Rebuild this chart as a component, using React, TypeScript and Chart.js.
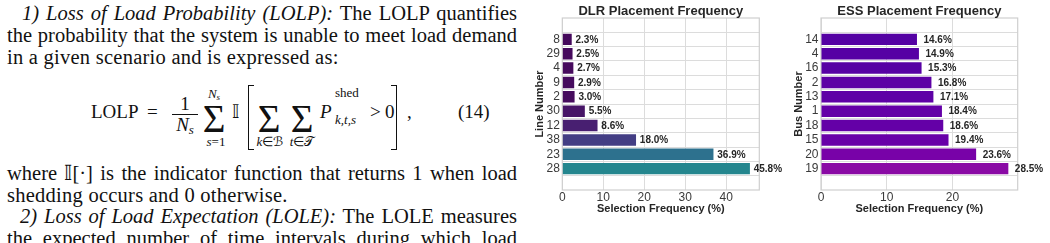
import React, { useEffect, useRef } from 'react';
import { Chart, registerables } from 'chart.js';
Chart.register(...registerables);

// ---- data ----
const dlrLines = ['8', '29', '4', '9', '2', '30', '12', '38', '23', '28'];
const dlrFreq = [2.3, 2.5, 2.7, 2.9, 3.0, 5.5, 8.6, 18.0, 36.9, 45.8];
const dlrXTicks = [0, 10, 20, 30, 40];
const essBuses = ['14', '4', '16', '2', '13', '1', '18', '15', '20', '19'];
const essFreq = [14.6, 14.9, 15.3, 16.8, 17.1, 18.4, 18.6, 19.4, 23.6, 28.5];
const essXTicks = [0, 10, 20];

// ---- colormaps (style) ----
const VIRIDIS = ['#440154', '#471365', '#482475', '#463480', '#414487', '#3b528b', '#355f8d', '#2f6c8e', '#2a788e', '#25848e', '#21918c', '#1e9c89', '#22a884', '#2fb47c', '#44bf70', '#5ec962', '#7ad151', '#9bd93c', '#bddf26', '#dfe318', '#fde725'];
const PLASMA = ['#0d0887', '#2a0593', '#41049d', '#5601a4', '#6a00a8', '#7e03a8', '#8f0da4', '#a11b9b', '#b12a90', '#bf3984', '#cc4778', '#d6556d', '#e16462', '#ea7457', '#f2844b', '#f89540', '#fca636', '#fdb82c', '#fcce25', '#f7e225', '#f0f921'];

function hex(c: string) {
  return [parseInt(c.slice(1, 3), 16), parseInt(c.slice(3, 5), 16), parseInt(c.slice(5, 7), 16)];
}
function cmap(stops: string[], t: number) {
  const tt = Math.max(0, Math.min(1, t)) * (stops.length - 1);
  const i = Math.min(stops.length - 2, Math.floor(tt));
  const f = tt - i;
  const a = hex(stops[i]);
  const b = hex(stops[i + 1]);
  const m = a.map((v, k) => Math.round(v + (b[k] - v) * f));
  return `rgb(${m[0]},${m[1]},${m[2]})`;
}

const SANS = '"Liberation Sans", Arial, Helvetica, sans-serif';
const SERIF = '"Liberation Serif", "Times New Roman", serif';

const framePlugin = {
  id: 'frame',
  beforeDatasetsDraw(chart: any) {
    const { ctx, chartArea: a } = chart;
    ctx.save();
    ctx.strokeStyle = '#cfcfcf';
    ctx.lineWidth = 1.2;
    ctx.strokeRect(a.left, a.top, a.right - a.left, a.bottom - a.top);
    ctx.restore();
  },
};

// title centred over the plot area (matplotlib style)
const plotTitlePlugin = {
  id: 'plotTitle',
  afterDraw(chart: any, _args: any, opts: any) {
    const { ctx, chartArea: a } = chart;
    ctx.save();
    ctx.font = `bold 13px ${SANS}`;
    ctx.fillStyle = '#262626';
    ctx.textAlign = 'center';
    ctx.textBaseline = 'middle';
    ctx.fillText(opts.text, (a.left + a.right) / 2, a.top - 6.5);
    ctx.restore();
  },
};

const valueLabelPlugin = {
  id: 'valueLabels',
  afterDraw(chart: any, _args: any, opts: any) {
    const { ctx } = chart;
    const meta = chart.getDatasetMeta(0);
    const data = chart.data.datasets[0].data;
    ctx.save();
    ctx.font = `bold 10px ${SANS}`;
    ctx.fillStyle = '#262626';
    ctx.textAlign = 'left';
    ctx.textBaseline = 'middle';
    meta.data.forEach((bar: any, i: number) => {
      const v = data[i].x;
      ctx.fillText(v.toFixed(1) + '%', bar.x + opts.gap, bar.y + 0.5);
    });
    ctx.restore();
  },
};

type Cfg = {
  labels: string[];
  values: number[];
  xTicks: number[];
  stops: string[];
  title: string;
  yTitle: string;
  yAxisWidth: number;
  padRight: number;
  yTitlePad: number;
  gap: number;
};

function makeChart(canvas: HTMLCanvasElement, c: Cfg) {
  const maxV = Math.max(...c.values) * 1.05;
  return new Chart(canvas, {
    type: 'bar',
    data: {
      datasets: [
        {
          data: c.values.map((v, i) => ({ x: v, y: i })),
          backgroundColor: c.values.map((v) => cmap(c.stops, v / 100)),
          borderWidth: 0,
          barPercentage: 0.8,
          categoryPercentage: 1,
        } as any,
      ],
    },
    options: {
      indexAxis: 'y',
      animation: false,
      responsive: false,
      maintainAspectRatio: false,
      devicePixelRatio: 1,
      layout: { padding: { left: 0, right: c.padRight, top: 18, bottom: 0 } },
      plugins: {
        legend: { display: false },
        tooltip: { enabled: false },
        title: { display: false },
        plotTitle: { text: c.title },
        valueLabels: { gap: c.gap },
      } as any,
      scales: {
        x: {
          type: 'linear',
          min: 0,
          max: maxV,
          afterBuildTicks: (s: any) => {
            s.ticks = c.xTicks.map((v) => ({ value: v }));
          },
          afterFit: (s: any) => {
            s.height = 53;
          },
          ticks: { color: '#3a3a3a', font: { family: SANS, size: 12 }, padding: 0, autoSkip: false },
          grid: { color: '#dcdcdc', lineWidth: 1, drawTicks: false },
          border: { display: false },
          title: {
            display: true,
            text: 'Selection Frequency (%)',
            color: '#262626',
            font: { family: SANS, size: 11, weight: 'bold', lineHeight: 1.2 },
            padding: { top: 0, bottom: 27.7 },
          },
        },
        y: {
          type: 'linear',
          reverse: true,
          min: -0.89,
          max: c.labels.length - 1 + 0.89,
          afterBuildTicks: (s: any) => {
            s.ticks = c.labels.map((_, i) => ({ value: i }));
          },
          afterFit: (s: any) => {
            s.width = c.yAxisWidth;
          },
          ticks: {
            color: '#3a3a3a',
            font: { family: SANS, size: 12 },
            padding: 2.5,
            autoSkip: false,
            callback: (v: any) => c.labels[v as number],
          },
          grid: { color: '#dcdcdc', lineWidth: 1, drawTicks: false },
          border: { display: false },
          title: {
            display: true,
            text: c.yTitle,
            color: '#262626',
            font: { family: SANS, size: 11, weight: 'bold', lineHeight: 1.2 },
            padding: { top: c.yTitlePad, bottom: 0 },
          },
        },
      },
    } as any,
    plugins: [framePlugin, valueLabelPlugin, plotTitlePlugin],
  });
}

// ---- text helpers ----
const FS = 20.5;
function Line(props: { x: number; b: number; justify?: boolean; children: any }) {
  return (
    <div
      style={{
        position: 'absolute',
        left: props.x,
        top: props.b - 0.8375 * FS,
        width: 517 - props.x,
        fontSize: FS,
        lineHeight: `${FS}px`,
        fontFamily: SERIF,
        color: '#111',
        letterSpacing: props.justify ? 0 : 0.25,
        textAlign: props.justify ? 'justify' : 'left',
        textAlignLast: props.justify ? 'justify' : 'left',
        whiteSpace: 'nowrap',
      } as any}
    >
      {props.children}
    </div>
  );
}

function M(props: { x: number; b: number; fs: number; italic?: boolean; center?: boolean; children: any; family?: string }) {
  return (
    <span
      style={{
        position: 'absolute',
        left: props.x,
        top: props.b - 0.8375 * props.fs,
        fontSize: props.fs,
        lineHeight: 1,
        fontFamily: props.family || SERIF,
        fontStyle: props.italic ? 'italic' : 'normal',
        transform: props.center ? 'translateX(-50%)' : undefined,
        whiteSpace: 'nowrap',
        color: '#111',
      }}
    >
      {props.children}
    </span>
  );
}

function Equation() {
  const b = 118;
  return (
    <>
      <M x={91} b={b} fs={19}>LOLP</M>
      <M x={147} b={b} fs={19}>=</M>
      <M x={185} b={110} fs={19} center>1</M>
      <div style={{ position: 'absolute', left: 172, top: 114, width: 26, borderTop: '1px solid #111' }} />
      <M x={185} b={131} fs={19} center>
        <i>N</i>
        <span style={{ fontSize: 13, fontStyle: 'italic', verticalAlign: -3 }}>s</span>
      </M>
      <M x={214} b={132} fs={39} center>Σ</M>
      <M x={214} b={98} fs={13} center>
        <i>N</i>
        <span style={{ fontSize: 9, fontStyle: 'italic', verticalAlign: -2 }}>s</span>
      </M>
      <M x={216} b={146} fs={13} center>
        <i>s</i>=1
      </M>
      <M x={232} b={b} fs={19}>𝕀</M>
      <div style={{ position: 'absolute', left: 248, top: 85, width: 5, height: 63, borderLeft: '1.3px solid #111', borderTop: '1.3px solid #111', borderBottom: '1.3px solid #111' }} />
      <M x={269} b={132} fs={39} center>Σ</M>
      <M x={270} b={146} fs={13} center>
        <i>k</i>∈ℬ
      </M>
      <M x={302} b={132} fs={39} center>Σ</M>
      <M x={302} b={146} fs={13} center>
        <i>t</i>∈𝒯
      </M>
      <M x={320} b={b} fs={19} italic>P</M>
      <M x={335} b={97} fs={13}>shed</M>
      <M x={335} b={124} fs={13} italic>k,t,s</M>
      <M x={370} b={b} fs={19}>&gt;</M>
      <M x={385} b={b} fs={19}>0</M>
      <div style={{ position: 'absolute', left: 391, top: 85, width: 5, height: 63, borderRight: '1.3px solid #111', borderTop: '1.3px solid #111', borderBottom: '1.3px solid #111' }} />
      <M x={407} b={b} fs={19}>,</M>
      <M x={458} b={b} fs={19}>(14)</M>
    </>
  );
}

export default function App() {
  const dlrRef = useRef<HTMLCanvasElement>(null);
  const essRef = useRef<HTMLCanvasElement>(null);

  useEffect(() => {
    const c1 = makeChart(dlrRef.current!, {
      labels: dlrLines,
      values: dlrFreq,
      xTicks: dlrXTicks,
      stops: VIRIDIS,
      title: 'DLR Placement Frequency',
      yTitle: 'Line Number',
      yAxisWidth: 32.3,
      padRight: 30.7,
      yTitlePad: 3.4,
      gap: 3.8,
    });
    const c2 = makeChart(essRef.current!, {
      labels: essBuses,
      values: essFreq,
      xTicks: essXTicks,
      stops: PLASMA,
      title: 'ESS Placement Frequency',
      yTitle: 'Bus Number',
      yAxisWidth: 31,
      padRight: 32.3,
      yTitlePad: 2.4,
      gap: 6.5,
    });
    return () => {
      c1.destroy();
      c2.destroy();
    };
  }, []);

  return (
    <div style={{ position: 'absolute', left: 0, top: 0, width: 1050, height: 243, overflow: 'hidden', background: '#fff' }}>
      <Line x={22} b={20.3} justify>
        <i>1) Loss of Load Probability (LOLP):</i> The LOLP quantifies
      </Line>
      <Line x={7} b={42} justify>
        the probability that the system is unable to meet load demand
      </Line>
      <Line x={7} b={63.7}>
        in a given scenario and is expressed as:
      </Line>
      <Equation />
      <Line x={7} b={180} justify>
        where 𝕀[·] is the indicator function that returns 1 when load
      </Line>
      <Line x={7} b={201.7}>
        shedding occurs and 0 otherwise.
      </Line>
      <Line x={20} b={223.4} justify>
        <i>2) Loss of Load Expectation (LOLE):</i> The LOLE measures
      </Line>
      <Line x={7} b={245.1} justify>
        the expected number of time intervals during which load
      </Line>
      <canvas ref={dlrRef} width={260} height={243} style={{ position: 'absolute', left: 530, top: 0, width: 260, height: 243 }} />
      <canvas ref={essRef} width={260} height={243} style={{ position: 'absolute', left: 790, top: 0, width: 260, height: 243 }} />
    </div>
  );
}
